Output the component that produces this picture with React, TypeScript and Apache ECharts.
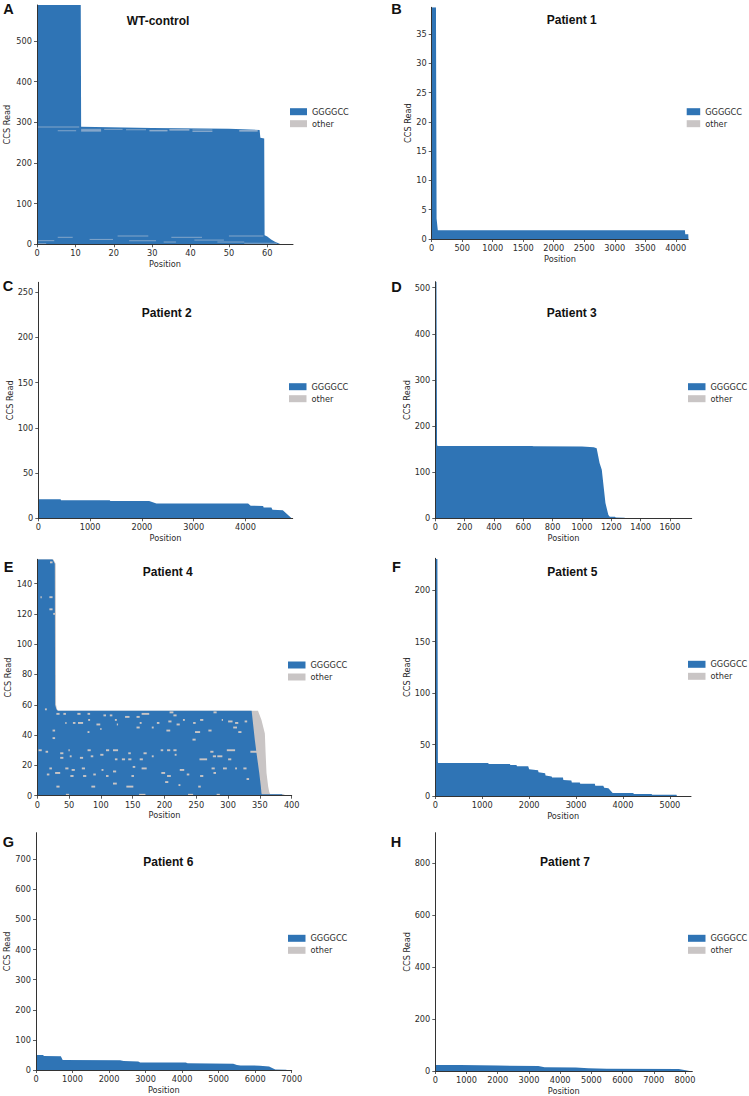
import React, { useEffect, useRef } from 'react';
import * as echarts from 'echarts';

const BLUE = '#2f74b5';
const GRAY = '#c9c5c5';
const TXT = '#2b2b2b';

// ---------- Panel A : WT-control ----------
const wtTitle = 'WT-control';
const wtProfile = [[0, 588], [11.4, 588], [11.5, 289], [30, 286], [50, 284], [58, 281], [58.2, 262], [59.2, 260], [59.3, 22], [60, 19], [61, 12], [62, 6], [63.5, 0]];
const wtOther = [[0, 11, 288], [11.5, 16.7, 282.5], [17.5, 22.3, 282.5], [11.5, 16.7, 280], [11.5, 16.7, 278], [5.4, 10.2, 279], [23.2, 28.4, 281.7], [29.3, 34, 280], [29.3, 34, 278.5], [34.5, 39.7, 282], [34.5, 39.7, 280], [40.5, 45.7, 281], [40.5, 45.7, 277], [52.7, 57.5, 279.7], [52.7, 57.5, 278],
  [5.4, 9.3, 17.2], [21, 29, 20.4], [35, 43, 17.2], [50, 59, 20.4], [0, 4.5, 8.9], [13.7, 19.8, 12], [24, 31, 9], [33, 36.2, 5.6], [41, 48.7, 10.4], [47, 54, 5.6], [54, 62.5, 2.3], [0, 2.4, 1.5]];
const wtXTicks = [0, 10, 20, 30, 40, 50, 60];
const wtYTicks = [0, 100, 200, 300, 400, 500];

// ---------- Panel B : Patient 1 ----------
const p1Title = 'Patient 1';
const p1Profile = [[0, 39.6], [70, 39.6], [80, 3.5], [100, 1.5], [4150, 1.5], [4155, 0.8], [4205, 0.8], [4207, 0]];
const p1XTicks = [0, 500, 1000, 1500, 2000, 2500, 3000, 3500, 4000];
const p1YTicks = [0, 5, 10, 15, 20, 25, 30, 35];

// ---------- Panel C : Patient 2 ----------
const p2Title = 'Patient 2';
const p2Profile = [[0, 21], [430, 21], [440, 20], [1380, 20], [1390, 19], [2140, 19], [2280, 16.5], [4050, 16.5], [4100, 14], [4340, 13.5], [4350, 12], [4500, 12], [4520, 9.5], [4720, 9], [4890, 0]];
const p2XTicks = [0, 1000, 2000, 3000, 4000];
const p2YTicks = [0, 50, 100, 150, 200, 250];

// ---------- Panel D : Patient 3 ----------
const p3Title = 'Patient 3';
const p3Profile = [[0, 513], [8, 513], [12, 160], [15, 157], [660, 157], [670, 156], [1000, 155.5], [1080, 154], [1100, 152], [1120, 120], [1135, 105], [1160, 33], [1180, 7], [1190, 3.6], [1225, 3.6], [1230, 1.5], [1290, 1.2], [1295, 0]];
const p3XTicks = [0, 200, 400, 600, 800, 1000, 1200, 1400, 1600];
const p3YTicks = [0, 100, 200, 300, 400, 500];

// ---------- Panel E : Patient 4 ----------
const p4Title = 'Patient 4';
const p4Profile = [[0, 156], [24, 156], [27.5, 153], [28, 60], [30, 57], [32, 56], [337, 56], [342, 37], [344.7, 28], [349, 15], [351.5, 6], [352.5, 1.5], [353, 1], [385, 1], [386, 0]];
const p4OtherProfile = [[0, 156], [25, 156], [29, 153], [29.5, 60], [31, 57], [33, 56], [347, 56], [352.5, 50], [357.8, 41], [359, 28], [360.4, 15], [363, 6], [364.6, 2.6], [366, 1.2], [388, 1], [390, 0]];
const p4Other = [[20, 24, 154], [5, 7, 131], [19, 24, 131], [19, 24, 123], [25, 29, 120],
  [12, 15, 57], [30, 35, 54], [41, 45, 54], [63, 68, 54], [79, 83, 54], [104, 108, 53], [114, 118, 53], [164, 176, 54], [208, 214, 55], [277, 282, 55], [122, 125, 50], [138, 145, 52], [156, 161, 52], [44, 46, 48], [56, 60, 48], [64, 72, 48], [80, 83, 50], [93, 99, 47], [125, 127, 47], [161, 164, 48], [188, 192, 48], [206, 211, 49], [219, 224, 47], [229, 232, 50], [245, 249, 48], [256, 261, 50], [290, 292, 50], [300, 307, 49], [311, 316, 48], [326, 330, 49], [214, 219, 53], [180, 183, 45], [99, 101, 44], [24, 28, 43], [79, 82, 42], [156, 161, 45], [203, 209, 43], [248, 256, 42], [269, 274, 43], [308, 314, 45], [316, 321, 42], [24, 28, 38], [244, 249, 37],
  [2, 7, 30], [13, 17, 29], [36, 41, 28], [49, 51, 30], [79, 84, 30], [108, 113, 30], [119, 127, 30], [143, 147, 28], [167, 172, 28], [194, 198, 30], [204, 209, 30], [214, 219, 30], [272, 277, 29], [298, 311, 30], [283, 291, 26], [335, 346, 29], [36, 41, 25], [51, 54, 26], [67, 72, 25], [84, 88, 26], [99, 104, 27], [122, 126, 24], [133, 138, 24], [143, 148, 24], [161, 166, 24], [180, 183, 26], [216, 219, 27], [255, 267, 24], [276, 281, 26], [300, 305, 24],
  [19, 23, 18], [44, 49, 18], [54, 59, 17], [70, 75, 18], [101, 104, 17], [119, 124, 16], [150, 154, 19], [164, 172, 18], [224, 231, 17], [274, 279, 18], [292, 298, 18], [311, 314, 18], [324, 329, 18], [28, 36, 15], [15, 19, 14], [52, 57, 13], [72, 77, 13], [88, 92, 14], [108, 112, 13], [148, 152, 13], [195, 201, 15], [204, 210, 13], [235, 239, 14], [256, 261, 13], [277, 281, 15], [329, 333, 11],
  [30, 35, 6], [85, 91, 6], [119, 125, 8], [140, 151, 6], [201, 206, 9], [222, 225, 7], [253, 257, 6], [45, 50, 0.6], [237, 245, 0.6], [282, 287, 0.6], [160, 170, 0.6]];
const p4XTicks = [0, 50, 100, 150, 200, 250, 300, 350, 400];
const p4YTicks = [0, 20, 40, 60, 80, 100, 120, 140];

// ---------- Panel F : Patient 5 ----------
const p5Title = 'Patient 5';
const p5Profile = [[0, 230], [45, 230], [55, 33], [60, 32], [1130, 32], [1135, 31], [1590, 31], [1600, 30], [1730, 30], [1740, 29], [1980, 29], [2000, 26], [2190, 25], [2200, 23], [2340, 22], [2350, 20], [2480, 19], [2490, 18], [2720, 18], [2730, 15.5], [2900, 15], [2910, 13], [3080, 13], [3090, 12], [3400, 12], [3410, 10], [3580, 10], [3600, 8], [3690, 7.5], [3780, 3], [4220, 3], [4230, 2], [4610, 2], [4620, 1.3], [5140, 1.3], [5150, 0]];
const p5XTicks = [0, 1000, 2000, 3000, 4000, 5000];
const p5YTicks = [0, 50, 100, 150, 200];

// ---------- Panel G : Patient 6 ----------
const p6Title = 'Patient 6';
const p6Profile = [[0, 50], [200, 50], [210, 46.5], [680, 46], [730, 33], [2300, 32], [2400, 30], [2800, 28], [2850, 25], [4100, 25], [4150, 22], [5400, 21], [5500, 17], [5600, 15], [6130, 14.5], [6380, 12], [6550, 2], [6850, 1], [6860, 0]];
const p6XTicks = [0, 1000, 2000, 3000, 4000, 5000, 6000, 7000];
const p6YTicks = [0, 100, 200, 300, 400, 500, 600, 700];

// ---------- Panel H : Patient 7 ----------
const p7Title = 'Patient 7';
const p7Profile = [[0, 23], [800, 23], [2000, 21], [3300, 19], [3500, 14], [4500, 13], [4900, 11], [5500, 8.5], [7800, 7.5], [8150, 0]];
const p7XTicks = [0, 1000, 2000, 3000, 4000, 5000, 6000, 7000, 8000];
const p7YTicks = [0, 200, 400, 600, 800];

const legendNames = ['GGGGCC', 'other'];

// layout (positions / sizes only)
const panels = [
  { letter: 'A', title: wtTitle, profile: wtProfile, otherProfile: null, seg: wtOther, segH: 1, xTicks: wtXTicks, yTicks: wtYTicks, xMax: 66.7, yMax: 588, grid: { left: 37, top: 5, width: 256, height: 239.3 }, titleXY: [158, 20.7], letterXY: [8.5, 8.5], legend: [290, 106.7, 17], yGap: 26 },
  { letter: 'B', title: p1Title, profile: p1Profile, otherProfile: null, seg: [], segH: 1, xTicks: p1XTicks, yTicks: p1YTicks, xMax: 4205, yMax: 39.6, grid: { left: 431.7, top: 7.3, width: 256.6, height: 231.7 }, titleXY: [571.7, 20], letterXY: [396.5, 8.5], legend: [686.7, 106.7, 13.5], yGap: 20 },
  { letter: 'C', title: p2Title, profile: p2Profile, otherProfile: null, seg: [], segH: 1, xTicks: p2XTicks, yTicks: p2YTicks, xMax: 4911, yMax: 261, grid: { left: 38.3, top: 282.3, width: 254.4, height: 236 }, titleXY: [166.7, 313.3], letterXY: [8, 285.5], legend: [289, 381.7, 17.5], yGap: 23.5 },
  { letter: 'D', title: p3Title, profile: p3Profile, otherProfile: null, seg: [], segH: 1, xTicks: p3XTicks, yTicks: p3YTicks, xMax: 1748, yMax: 513, grid: { left: 435.3, top: 281.7, width: 256.4, height: 236.6 }, titleXY: [571.7, 313.3], letterXY: [396.5, 286.5], legend: [688, 381.7, 17.5], yGap: 23.5 },
  { letter: 'E', title: p4Title, profile: p4Profile, otherProfile: p4OtherProfile, seg: p4Other, segH: 1.9, xTicks: p4XTicks, yTicks: p4YTicks, xMax: 400, yMax: 156, grid: { left: 37.3, top: 559.3, width: 254.4, height: 236.4 }, titleXY: [167.7, 571.7], letterXY: [8.5, 566.5], legend: [288, 660, 17.5], yGap: 25 },
  { letter: 'F', title: p5Title, profile: p5Profile, otherProfile: null, seg: [], segH: 1, xTicks: p5XTicks, yTicks: p5YTicks, xMax: 5450, yMax: 230.8, grid: { left: 435.3, top: 558.3, width: 255.7, height: 237.7 }, titleXY: [572.3, 571.7], letterXY: [396.5, 566.5], legend: [688, 659.3, 17.5], yGap: 24.5 },
  { letter: 'G', title: p6Title, profile: p6Profile, otherProfile: null, seg: [], segH: 1, xTicks: p6XTicks, yTicks: p6YTicks, xMax: 7000, yMax: 788, grid: { left: 36, top: 832.7, width: 255.7, height: 237.3 }, titleXY: [168.3, 861.7], letterXY: [8.5, 842], legend: [288, 933.3, 17.5], yGap: 24.5 },
  { letter: 'H', title: p7Title, profile: p7Profile, otherProfile: null, seg: [], segH: 1, xTicks: p7XTicks, yTicks: p7YTicks, xMax: 8234, yMax: 917, grid: { left: 435.3, top: 832.7, width: 257, height: 238.3 }, titleXY: [565, 861.7], letterXY: [396, 842], legend: [688, 933.3, 17.5], yGap: 23.5 },
];

const tickFont = 'DejaVu Sans';
const headFont = 'Liberation Sans';
const plain = (v: number) => String(v);

function buildOption() {
  const grid: any[] = [];
  const xAxis: any[] = [];
  const yAxis: any[] = [];
  const series: any[] = [];
  const legend: any[] = [];
  const graphic: any[] = [];

  panels.forEach((p, i) => {
    grid.push({ ...p.grid, containLabel: false });
    const axisCommon = {
      axisLine: { show: true, lineStyle: { color: '#333', width: 1 } },
      axisTick: { show: true, length: 3, lineStyle: { color: '#333', width: 0.8 } },
      splitLine: { show: false },
      nameTextStyle: { fontFamily: tickFont, fontSize: 8.2, color: TXT },
    };
    xAxis.push({
      type: 'value', gridIndex: i, min: 0, max: p.xMax, z: 5,
      ...axisCommon,
      axisTick: { ...axisCommon.axisTick, customValues: p.xTicks },
      axisLabel: { customValues: p.xTicks, formatter: plain, fontFamily: tickFont, fontSize: 8.2, color: TXT, margin: 5 },
      name: 'Position', nameLocation: 'middle', nameGap: 15.5,
    });
    yAxis.push({
      type: 'value', gridIndex: i, min: 0, max: p.yMax, z: 5,
      ...axisCommon,
      axisTick: { ...axisCommon.axisTick, customValues: p.yTicks },
      axisLabel: { customValues: p.yTicks, formatter: plain, fontFamily: tickFont, fontSize: 8.2, color: TXT, margin: 5 },
      name: 'CCS Read', nameLocation: 'middle', nameGap: p.yGap,
    });
    if (p.otherProfile) {
      series.push({
        type: 'line', name: 'other', xAxisIndex: i, yAxisIndex: i, data: p.otherProfile,
        symbol: 'none', color: GRAY, lineStyle: { width: 0, color: GRAY }, areaStyle: { color: GRAY, opacity: 1 }, z: 2, silent: true,
      });
    }
    series.push({
      type: 'line', name: 'GGGGCC', xAxisIndex: i, yAxisIndex: i, data: p.profile,
      symbol: 'none', color: BLUE, lineStyle: { width: 0, color: BLUE }, areaStyle: { color: BLUE, opacity: 1 }, z: 3, silent: true,
    });
    const segH = p.segH;
    series.push({
      type: 'custom', name: 'other', xAxisIndex: i, yAxisIndex: i, data: p.seg, color: GRAY, z: 4, silent: true,
      encode: { x: [0, 1], y: 2 },
      renderItem: (params: any, api: any) => {
        const a = api.coord([api.value(0), api.value(2)]);
        const b = api.coord([api.value(1), api.value(2)]);
        return {
          type: 'rect',
          shape: { x: a[0], y: a[1] - segH / 2, width: Math.max(1, b[0] - a[0]), height: segH },
          style: { fill: i === 0 ? 'rgba(200,208,220,0.55)' : GRAY },
        };
      },
    });
    legend.push({
      orient: 'vertical', left: p.legend[0], top: p.legend[1], padding: 0, itemGap: 2,
      itemWidth: p.legend[2], itemHeight: 7, icon: 'rect', selectedMode: false,
      textStyle: { fontFamily: tickFont, fontSize: 8.2, color: TXT, lineHeight: 10 },
      data: [
        { name: legendNames[0], itemStyle: { color: BLUE }, lineStyle: { width: 0 } },
        { name: legendNames[1], itemStyle: { color: GRAY }, lineStyle: { width: 0 } },
      ],
    });
    graphic.push({
      type: 'text', x: p.titleXY[0], y: p.titleXY[1],
      style: { text: p.title, fontFamily: headFont, fontWeight: 'bold', fontSize: 12, fill: '#111', align: 'center', verticalAlign: 'middle' },
    });
    graphic.push({
      type: 'text', x: p.letterXY[0], y: p.letterXY[1],
      style: { text: p.letter, fontFamily: headFont, fontWeight: 'bold', fontSize: 14.5, fill: '#111', align: 'center', verticalAlign: 'middle' },
    });
  });

  return { animation: false, backgroundColor: '#ffffff', grid, xAxis, yAxis, series, legend, graphic };
}

export default function App() {
  const ref = useRef<HTMLDivElement>(null);
  useEffect(() => {
    const chart = echarts.init(ref.current as HTMLDivElement, null, { renderer: 'svg' });
    chart.setOption(buildOption());
    return () => chart.dispose();
  }, []);
  return <div ref={ref} style={{ position: 'fixed', left: 0, top: 0, width: 749, height: 1096, background: '#fff' }} />;
}
